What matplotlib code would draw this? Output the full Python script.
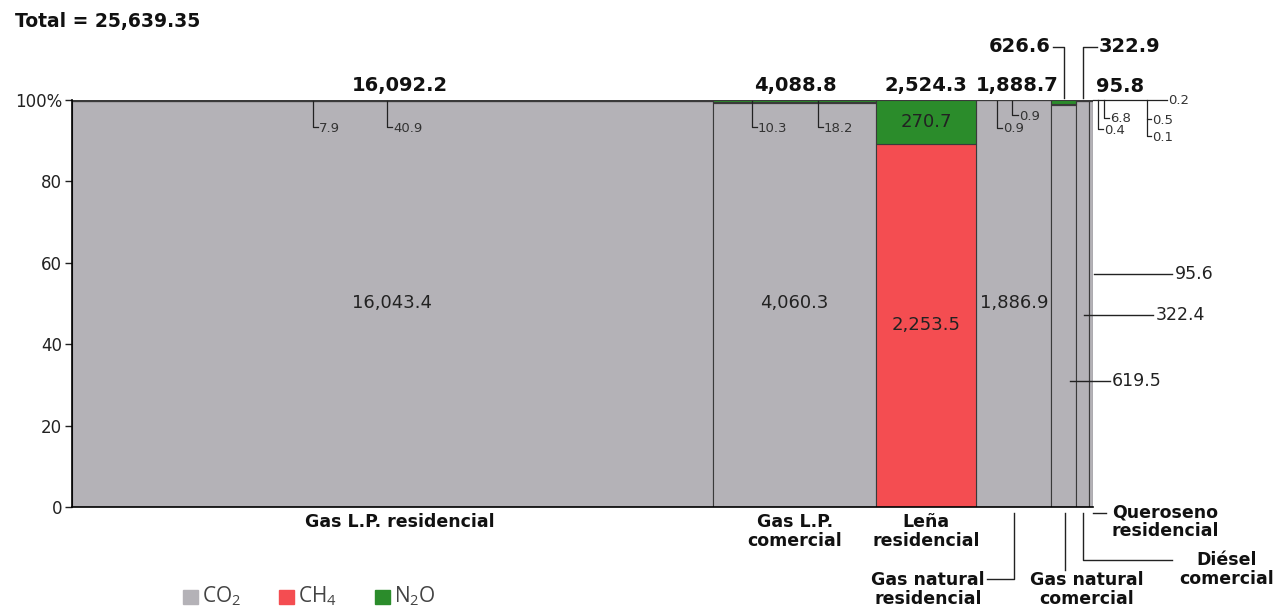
import numpy as np
import matplotlib.pyplot as plt
from matplotlib.lines import Line2D

W, H = 1277, 609

categorias = ["Gas L.P. residencial", "Gas L.P.\ncomercial", "Leña\nresidencial",
              "Gas natural\nresidencial", "Gas natural\ncomercial", "Diésel\ncomercial",
              "Queroseno\nresidencial"]
totales = [16092.2, 4088.8, 2524.3, 1888.7, 626.6, 322.9, 95.8]
co2 = [16043.4, 4060.3, 0.0, 1886.9, 619.5, 322.4, 95.6]
ch4 = [7.9, 10.3, 2253.5, 0.9, 0.4, 0.1, 0.2]
n2o = [40.9, 18.2, 270.7, 0.9, 6.8, 0.5, 0.1]
total_general = 25639.35

c_co2 = "#b4b2b7"
c_ch4 = "#f44d51"
c_n2o = "#2b8c2b"
edge = "#3a3a3a"

plt.rcParams['font.family'] = ['DejaVu Sans']
plt.rcParams['mathtext.fontset'] = 'custom'
plt.rcParams['mathtext.rm'] = 'Open Sans'

fig = plt.figure(figsize=(W / 100, H / 100), dpi=100)
ax = fig.add_axes([72 / W, 1 - 507 / H, (1093 - 72) / W, (507 - 100) / H])

widths = np.array(totales)
lefts = np.concatenate([[0], np.cumsum(widths)[:-1]])
comp = np.array([co2, ch4, n2o])
pct = comp / comp.sum(axis=0) * 100
bottoms = np.vstack([np.zeros(len(widths)), pct[0], pct[0] + pct[1]])

for k, col in enumerate([c_co2, c_ch4, c_n2o]):
    ax.bar(lefts, pct[k], widths, bottom=bottoms[k], align='edge', color=col,
           edgecolor=edge, linewidth=0.8)

ax.set_xlim(0, widths.sum())
ax.set_ylim(0, 100)
ax.set_yticks([0, 20, 40, 60, 80, 100])
ax.set_yticklabels(["0", "20", "40", "60", "80", "100%"])
ax.tick_params(axis='y', length=5, width=1, labelsize=12, colors="#222222", pad=2)
ax.set_xticks([])
for s in ["top", "right"]:
    ax.spines[s].set_visible(False)
ax.spines["left"].set_linewidth(1.2)
ax.spines["bottom"].set_linewidth(1.2)

# etiquetas dentro de las barras
inside = dict(ha='center', va='center', fontsize=13, color="#222")
centers = lefts + widths / 2
ax.text(centers[0], 50, f"{co2[0]:,.1f}", **inside)
ax.text(centers[1], 50, f"{co2[1]:,.1f}", **inside)
ax.text(centers[2], bottoms[1][2] + pct[1][2] / 2, f"{ch4[2]:,.1f}", **inside)
ax.text(centers[2], bottoms[2][2] + pct[2][2] / 2, f"{n2o[2]:,.1f}", **inside)
ax.text(centers[3], 50, f"{co2[3]:,.1f}", **inside)


def P(x, y):
    return x / W, 1 - y / H


def line(xs, ys, lw=1.0, color="#222"):
    fx = [x / W for x in xs]
    fy = [1 - y / H for y in ys]
    fig.add_artist(Line2D(fx, fy, lw=lw, color=color, transform=fig.transFigure))


def txt(x, y, s, **kw):
    fig.text(*P(x, y), s, **kw)


# titulo
txt(15, 22, f"Total = {total_general:,.2f}", fontsize=13.5, fontweight='bold', va='center', color="#111")

# totales por categoria
big = dict(fontsize=14, fontweight='bold', va='center', color="#111")
for i, xc in zip([0, 1, 2, 3], [400, 795, 926, 1017]):
    txt(xc, 86, f"{totales[i]:,.1f}", ha='center', **big)
txt(1120, 86, f"{totales[6]:,.1f}", ha='center', **big)
txt(1051, 47, f"{totales[4]:,.1f}", ha='right', **big)
line([1053, 1064, 1064], [47, 47, 98])
txt(1099, 47, f"{totales[5]:,.1f}", ha='left', **big)
line([1083, 1083, 1097], [98, 47, 47])

# etiquetas pequenas con corchete
small = dict(fontsize=9.5, va='center', color="#333")


def bracket(xv, ytop, ybot, xt, s):
    line([xv, xv, xt - 1], [ytop, ybot, ybot], lw=0.9)
    txt(xt, ybot + 1, s, ha='left', **small)


bracket(313, 101, 127, 319, f"{ch4[0]:.1f}")
bracket(387, 101, 127, 393, f"{n2o[0]:.1f}")
bracket(752, 101, 127, 758, f"{ch4[1]:.1f}")
bracket(818, 101, 127, 824, f"{n2o[1]:.1f}")
bracket(997, 101, 128, 1003, f"{ch4[3]:.1f}")
bracket(1012, 101, 115, 1019, f"{n2o[3]:.1f}")
line([1093, 1167], [100, 100], lw=0.9)
txt(1168, 101, f"{ch4[6]:.1f}", ha='left', **small)
bracket(1098, 100, 129, 1104, f"{ch4[4]:.1f}")
bracket(1104, 100, 118, 1110, f"{n2o[4]:.1f}")
bracket(1147, 100, 119, 1152, f"{n2o[5]:.1f}")
bracket(1147, 119, 136, 1152, f"{ch4[5]:.1f}")

# etiquetas CO2 a la derecha
mid = dict(fontsize=12.5, va='center', color="#222")
line([1094, 1172], [274, 274])
txt(1175, 274, f"{co2[6]:.1f}", ha='left', **mid)
line([1084, 1153], [315, 315])
txt(1156, 315, f"{co2[5]:.1f}", ha='left', **mid)
line([1070, 1110], [381, 381])
txt(1112, 381, f"{co2[4]:.1f}", ha='left', **mid)

# categorias
cat = dict(fontsize=12.5, fontweight='bold', va='top', color="#111", linespacing=1.1)
txt(400, 513, categorias[0], ha='center', **cat)
txt(795, 513, categorias[1], ha='center', **cat)
txt(926, 513, categorias[2], ha='center', **cat)
txt(985, 571, categorias[3], ha='right', multialignment='center', **cat)
line([987, 1014, 1014], [579, 579, 513])
txt(1087, 571, categorias[4], ha='center', **cat)
line([1065, 1065], [513, 570])
txt(1227, 551, categorias[5], ha='center', **cat)
line([1083, 1083, 1172], [513, 560, 560])
txt(1165, 503, categorias[6], ha='center', **cat)
line([1093, 1106], [513, 513])

# leyenda
leg = [("CO$_2$", c_co2, 183), ("CH$_4$", c_ch4, 279), ("N$_2$O", c_n2o, 375)]
for lab, col, x0 in leg:
    fig.patches.append(plt.Rectangle(P(x0, 604), 15 / W, 14 / H, transform=fig.transFigure,
                                     color=col, figure=fig))
    fig.text(*P(x0 + 19, 602), lab, fontsize=15, va='baseline', ha='left', color="#444",
             family=['Open Sans', 'DejaVu Sans'])

fig.savefig("out.png", dpi=100, facecolor="white")
